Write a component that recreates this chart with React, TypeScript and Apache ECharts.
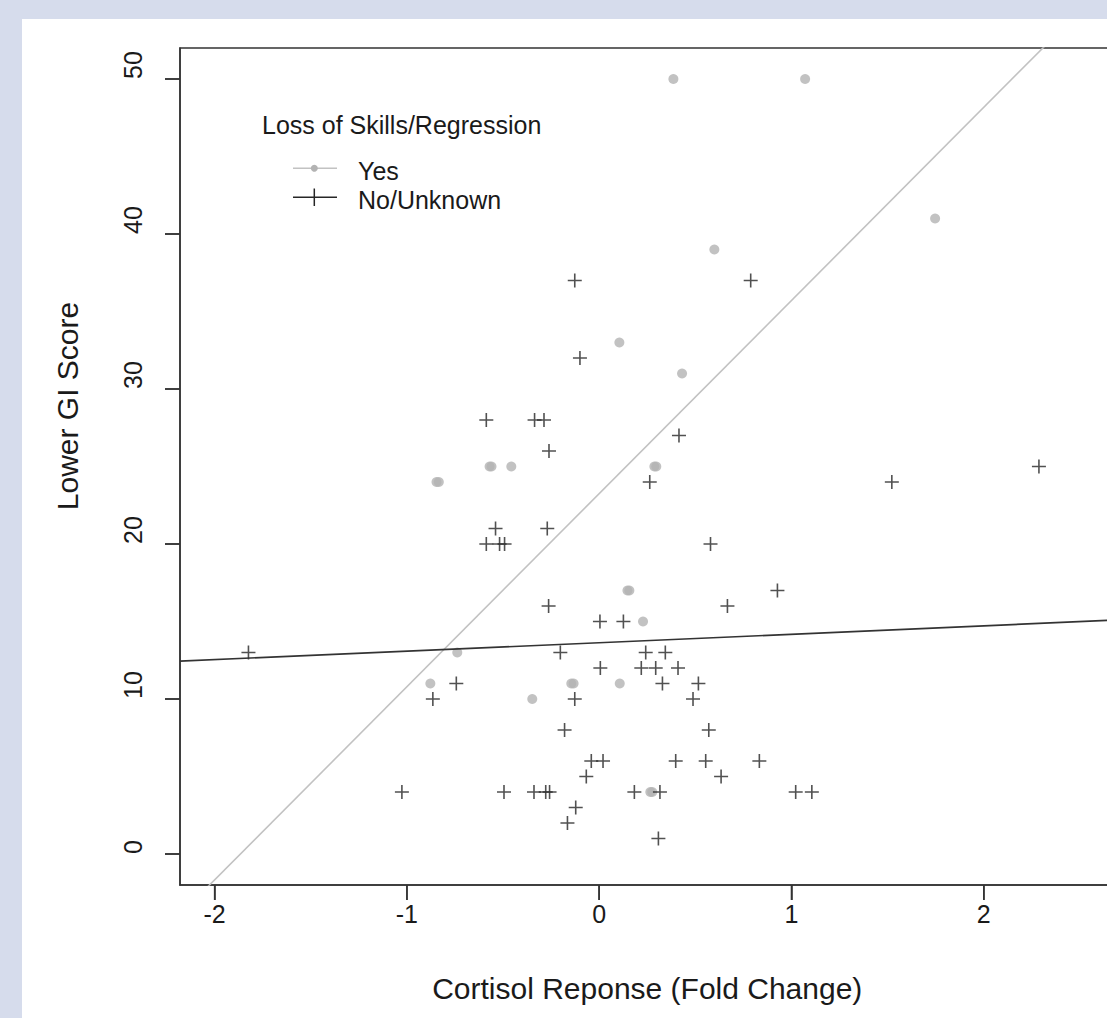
import React, { useEffect, useRef } from "react";
import * as echarts from "echarts";

// ---- data ----
const YES_X = [0.386, 1.071, 1.747, 0.599, 0.105, 0.431, -0.57, -0.56, -0.457, 0.287, 0.297, -0.846, -0.834, 0.147, 0.157, 0.228, -0.738, -0.878, -0.145, -0.133, 0.107, -0.348, 0.266, 0.276];
const YES_Y = [50, 50, 41, 39, 33, 31, 25, 25, 25, 25, 25, 24, 24, 17, 17, 15, 13, 11, 11, 11, 11, 10, 4, 4];

const NO_X = [
  -0.127, 0.788,
  -0.1,
  -0.587, -0.336, -0.287,
  0.415,
  -0.261,
  2.287,
  0.263, 1.522,
  -0.539, -0.27,
  -0.587, -0.518, -0.492, 0.579,
  0.927,
  -0.263, 0.667,
  0.004, 0.126,
  -1.824, -0.202, 0.242, 0.344,
  0.006, 0.219, 0.294, 0.41,
  -0.743, 0.329, 0.516,
  -0.865, -0.127, 0.488,
  -0.18, 0.57,
  -0.041, 0.02, 0.398, 0.554, 0.833,
  -0.067, 0.634,
  -1.026, -0.495, -0.339, -0.278, -0.258, 0.183, 0.316, 1.022, 1.106,
  -0.122,
  -0.165,
  0.308,
];
const NO_Y = [
  37, 37,
  32,
  28, 28, 28,
  27,
  26,
  25,
  24, 24,
  21, 21,
  20, 20, 20, 20,
  17,
  16, 16,
  15, 15,
  13, 13, 13, 13,
  12, 12, 12, 12,
  11, 11, 11,
  10, 10, 10,
  8, 8,
  6, 6, 6, 6, 6,
  5, 5,
  4, 4, 4, 4, 4, 4, 4, 4, 4,
  3,
  2,
  1,
];

const FIT_NAMES = ["Yes", "No/Unknown"];
const FIT_INTERCEPTS = [23.25, 13.63];
const FIT_SLOPES = [12.46, 0.545];

const X_TICKS = [-2, -1, 0, 1, 2];
const Y_TICKS = [0, 10, 20, 30, 40, 50];
const X_RANGE = [-2.18, 2.68];
const Y_RANGE = [-2, 52];

const X_TITLE = "Cortisol Reponse (Fold Change)";
const Y_TITLE = "Lower GI Score";
const LEGEND_TITLE = "Loss of Skills/Regression";
const LEGEND_LABELS = ["Yes", "No/Unknown"];

const FONT = "'Liberation Sans', Arial, Helvetica, sans-serif";
const TEXT = "#1a1a1a";
const GRAY = "#b3b3b3";
const LINE_GRAY = "#c2c2c2";
const DARK = "#262626";
const AXIS = "#333333";
const TICK_LEN = 15;
const GRID = { left: 180, top: 48, width: 934.5, height: 837 };
const CROSS = "path://M0,6.2 L14,6.2 L14,7.8 L0,7.8 Z M6.2,0 L7.8,0 L7.8,14 L6.2,14 Z";

// same linear mapping as the value axes (used only for tick marks)
const xScale = (v: number) => GRID.left + ((v - X_RANGE[0]) / (X_RANGE[1] - X_RANGE[0])) * GRID.width;
const yScale = (v: number) => GRID.top + GRID.height - ((v - Y_RANGE[0]) / (Y_RANGE[1] - Y_RANGE[0])) * GRID.height;

export default function App() {
  const ref = useRef<HTMLDivElement>(null);
  useEffect(() => {
    if (!ref.current) return;
    const chart = echarts.init(ref.current, undefined, { renderer: "svg" });
    const yesData = YES_X.map((x, i) => [x, YES_Y[i]]);
    const noData = NO_X.map((x, i) => [x, NO_Y[i]]);
    const fitData = FIT_INTERCEPTS.map((b, i) => [
      [X_RANGE[0], b + FIT_SLOPES[i] * X_RANGE[0]],
      [X_RANGE[1], b + FIT_SLOPES[i] * X_RANGE[1]],
    ]);
    const bottom = GRID.top + GRID.height;
    const tickElements: any[] = [
      ...X_TICKS.map((v) => ({
        type: "rect",
        z: 100,
        shape: { x: xScale(v) - 0.75, y: bottom, width: 1.5, height: TICK_LEN },
        style: { fill: AXIS },
      })),
      ...Y_TICKS.map((v) => ({
        type: "rect",
        z: 100,
        shape: { x: GRID.left - TICK_LEN, y: yScale(v) - 0.75, width: TICK_LEN, height: 1.5 },
        style: { fill: AXIS },
      })),
    ];
    const legendElements: any[] = [
      {
        type: "text",
        x: 67.9,
        y: 406,
        rotation: Math.PI / 2,
        style: { text: Y_TITLE, font: `30px ${FONT}`, fill: TEXT, align: "center", verticalAlign: "middle" },
      },
      { type: "text", x: 262, y: 124.6, style: { text: LEGEND_TITLE, font: `25px ${FONT}`, fill: TEXT, verticalAlign: "middle" } },
      { type: "line", shape: { x1: 293, y1: 168.3, x2: 337, y2: 168.3 }, style: { stroke: LINE_GRAY, lineWidth: 1.5 } },
      { type: "circle", shape: { cx: 314.3, cy: 168.3, r: 3.5 }, style: { fill: GRAY } },
      { type: "text", x: 358, y: 171.3, style: { text: LEGEND_LABELS[0], font: `25px ${FONT}`, fill: TEXT, verticalAlign: "middle" } },
      { type: "line", shape: { x1: 293, y1: 197.3, x2: 337, y2: 197.3 }, style: { stroke: DARK, lineWidth: 1.5 } },
      { type: "line", shape: { x1: 314.3, y1: 188.5, x2: 314.3, y2: 206 }, style: { stroke: DARK, lineWidth: 1.5 } },
      { type: "text", x: 358, y: 200.3, style: { text: LEGEND_LABELS[1], font: `25px ${FONT}`, fill: TEXT, verticalAlign: "middle" } },
    ];
    chart.setOption({
      animation: false,
      backgroundColor: "transparent",
      grid: {
        ...GRID,
        containLabel: false,
        show: true,
        borderColor: AXIS,
        borderWidth: 1.5,
        backgroundColor: "transparent",
      },
      xAxis: {
        type: "value",
        position: "bottom",
        min: X_RANGE[0],
        max: X_RANGE[1],
        splitLine: { show: false },
        axisLine: { show: true, onZero: false, lineStyle: { color: AXIS, width: 1.5 } },
        axisTick: { show: true, inside: false, length: TICK_LEN, customValues: X_TICKS, lineStyle: { color: AXIS, width: 1.5 } },
        axisLabel: {
          customValues: X_TICKS,
          margin: 16,
          fontSize: 25,
          lineHeight: 25,
          color: TEXT,
          fontFamily: FONT,
        },
        name: X_TITLE,
        nameLocation: "middle",
        nameGap: 88,
        nameTextStyle: { fontSize: 30, lineHeight: 30, color: TEXT, fontFamily: FONT },
      },
      yAxis: {
        type: "value",
        position: "left",
        min: Y_RANGE[0],
        max: Y_RANGE[1],
        splitLine: { show: false },
        axisLine: { show: true, onZero: false, lineStyle: { color: AXIS, width: 1.5 } },
        axisTick: { show: true, inside: false, length: TICK_LEN, customValues: Y_TICKS, lineStyle: { color: AXIS, width: 1.5 } },
        axisLabel: {
          customValues: Y_TICKS,
          rotate: 90,
          align: "left",
          verticalAlign: "bottom",
          margin: 35,
          fontSize: 25,
          lineHeight: 25,
          color: TEXT,
          fontFamily: FONT,
        },
      },
      graphic: { elements: [...legendElements, ...tickElements] },
      series: [
        {
          name: "Yes",
          type: "scatter",
          data: yesData,
          symbol: "circle",
          symbolSize: 10,
          itemStyle: { color: GRAY },
          z: 3,
        },
        {
          name: "No/Unknown",
          type: "scatter",
          data: noData,
          symbol: CROSS,
          symbolSize: 14,
          itemStyle: { color: DARK },
          z: 3,
        },
        {
          name: FIT_NAMES[0] + " fit",
          type: "line",
          data: fitData[0],
          symbol: "none",
          clip: true,
          lineStyle: { color: LINE_GRAY, width: 1.6 },
          z: 4,
        },
        {
          name: FIT_NAMES[1] + " fit",
          type: "line",
          data: fitData[1],
          symbol: "none",
          clip: true,
          lineStyle: { color: AXIS, width: 1.6 },
          z: 4,
        },
      ],
    });
    return () => chart.dispose();
  }, []);
  return (
    <div style={{ position: "absolute", left: 0, top: 0, width: 1107, height: 1018, overflow: "hidden", background: "#d6dcec" }}>
      <div style={{ position: "absolute", left: 22, top: 19, width: 1200, height: 1100, background: "#ffffff" }} />
      <div ref={ref} style={{ position: "absolute", left: 0, top: 0, width: 1200, height: 1018 }} />
    </div>
  );
}
